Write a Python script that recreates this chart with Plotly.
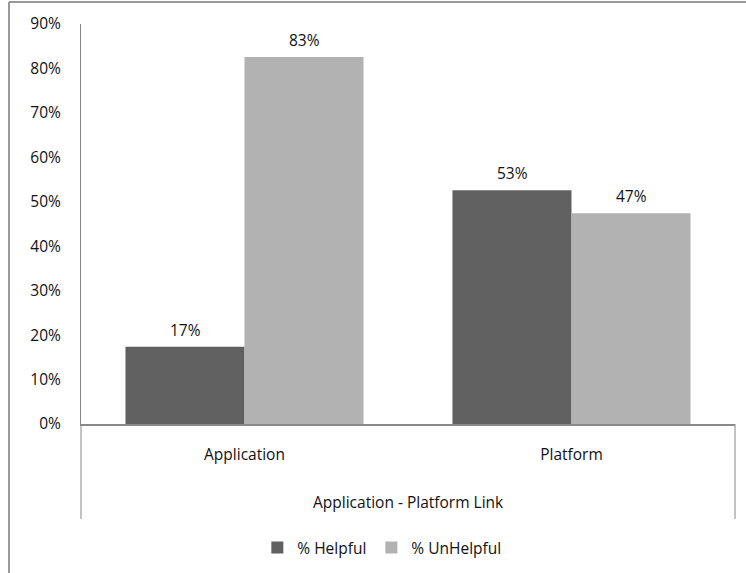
import plotly.graph_objects as go

categories = ["Application", "Platform"]
helpful = [0.174, 0.526]
unhelpful = [0.826, 0.474]
helpful_labels = ["17%", "53%"]
unhelpful_labels = ["83%", "47%"]
y_ticks = [0, 0.1, 0.2, 0.3, 0.4, 0.5, 0.6, 0.7, 0.8, 0.9]
y_ticktext = ["0%", "10%", "20%", "30%", "40%", "50%", "60%", "70%", "80%", "90%"]
group_label = "Application - Platform Link"

FONT = "Open Sans"
FS = 15.5
TXT = "#111111"
LINE = "#888888"

fig = go.Figure()
fig.add_trace(go.Bar(x=categories, y=helpful, name="% Helpful", marker_color="#606060",
                     marker_line_width=0))
fig.add_trace(go.Bar(x=categories, y=unhelpful, name="% UnHelpful", marker_color="#b2b2b2",
                     marker_line_width=0))

W, H = 746, 573
L, R, T, B = 81, 11, 24, 149
pw, ph = W - L - R, H - T - B
bar_px = 119

def px_x(x):
    return (x - L) / pw

def px_y(y):
    return (H - B - y) / ph

fig.update_layout(
    width=W, height=H,
    margin=dict(l=L, r=R, t=T, b=B, autoexpand=False),
    paper_bgcolor="white", plot_bgcolor="white",
    font=dict(family=FONT, size=FS, color=TXT),
    barmode="group", bargap=0.272, bargroupgap=0,
    showlegend=True,
    legend=dict(orientation="h", x=0.46, xanchor="center", y=px_y(548), yanchor="middle",
                font=dict(size=FS, family=FONT, color=TXT), itemwidth=30,
                traceorder="normal"),
)
fig.update_yaxes(range=[0, 0.9], tickvals=y_ticks, ticktext=y_ticktext, showgrid=False,
                 showline=True, linecolor=LINE, linewidth=1, ticks="", zeroline=False,
                 automargin=False,
                 ticklabelstandoff=16, tickfont=dict(size=FS, family=FONT, color=TXT))
fig.update_xaxes(showgrid=False, showline=True, linecolor=LINE, linewidth=2, ticks="",
                 automargin=False,
                 ticklabelstandoff=15, tickfont=dict(size=FS, family=FONT, color=TXT))

# data labels
for cat, v, t in zip(categories, helpful, helpful_labels):
    fig.add_annotation(x=cat, y=v, xref="x", yref="y", text=t, showarrow=False,
                       xshift=-bar_px / 2, yshift=17, yanchor="middle",
                       font=dict(size=FS, family=FONT, color=TXT))
for cat, v, t in zip(categories, unhelpful, unhelpful_labels):
    fig.add_annotation(x=cat, y=v, xref="x", yref="y", text=t, showarrow=False,
                       xshift=bar_px / 2, yshift=17, yanchor="middle",
                       font=dict(size=FS, family=FONT, color=TXT))

shapes = []
for xp in (81, 735):
    shapes.append(dict(type="line", xref="paper", yref="paper", x0=px_x(xp), x1=px_x(xp),
                       y0=0, y1=px_y(519), line=dict(color=LINE, width=1)))
shapes.append(dict(type="line", xref="paper", yref="paper", x0=px_x(9), x1=px_x(9),
                   y0=px_y(2), y1=px_y(575), line=dict(color="#999999", width=2)))
shapes.append(dict(type="line", xref="paper", yref="paper", x0=px_x(9), x1=px_x(748),
                   y0=px_y(2), y1=px_y(2), line=dict(color="#999999", width=2)))
fig.update_layout(shapes=shapes)
fig.add_annotation(text=group_label, xref="paper", yref="paper", x=0.5, y=px_y(502),
                   xanchor="center", yanchor="middle", showarrow=False,
                   font=dict(size=FS, family=FONT, color=TXT))

fig.write_html("out.html")
